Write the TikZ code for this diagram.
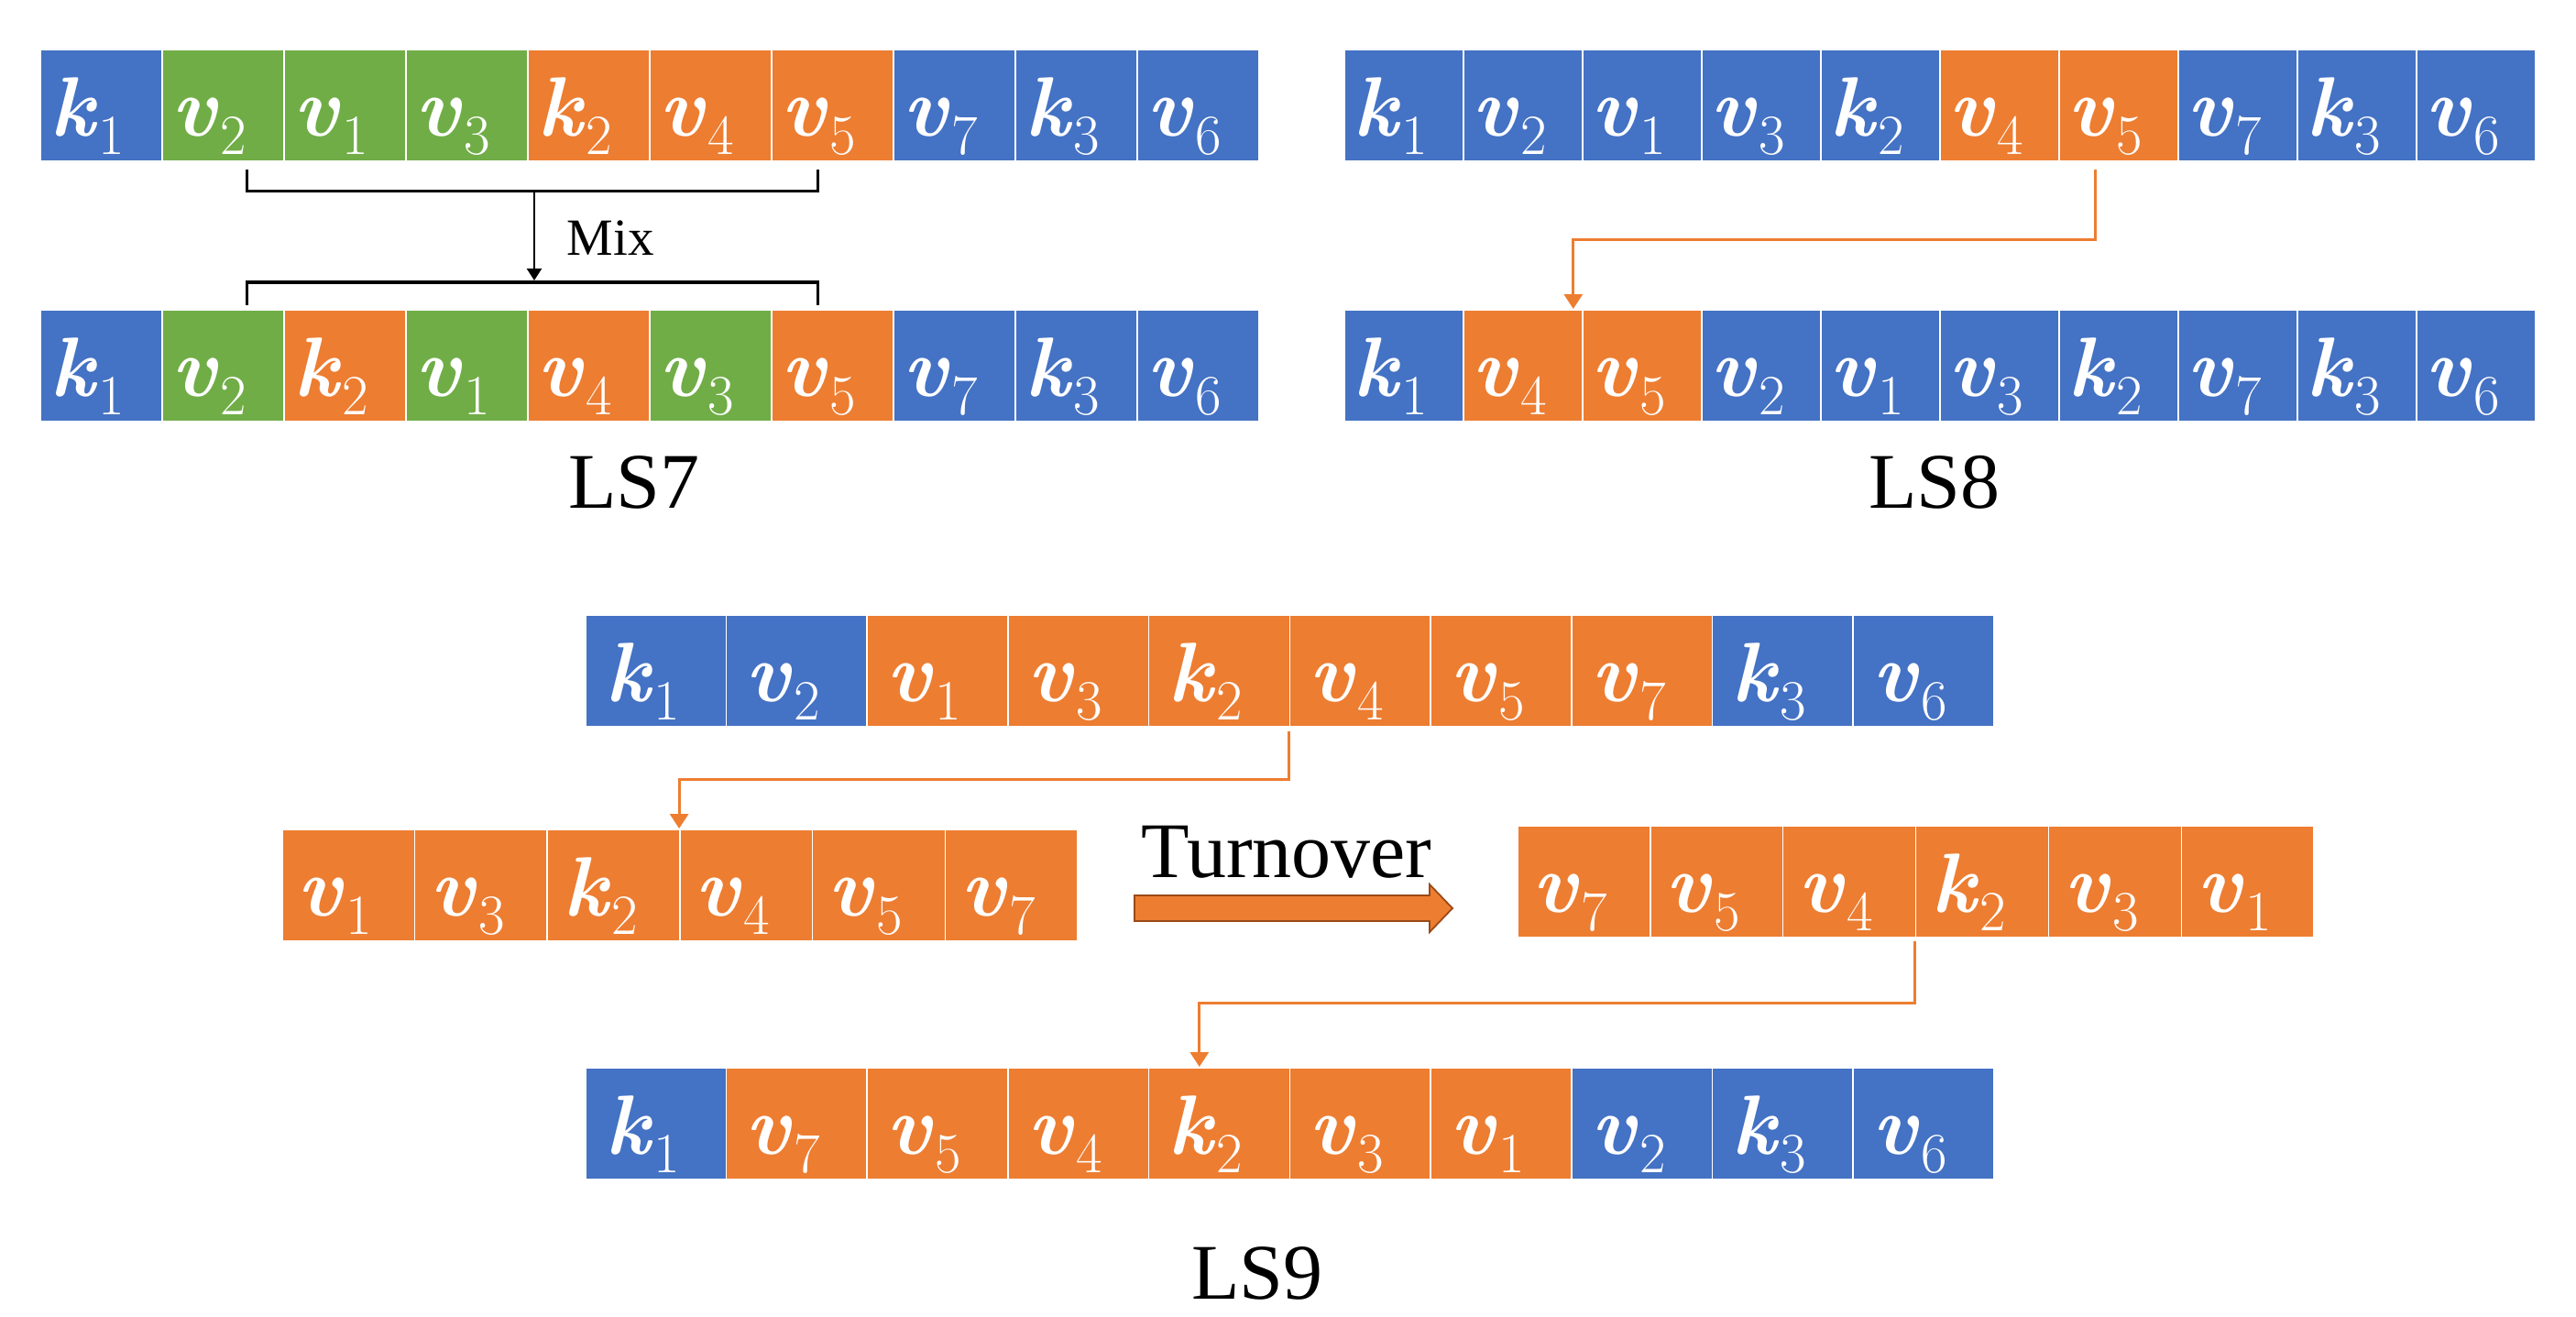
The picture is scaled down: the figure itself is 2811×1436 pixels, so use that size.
\documentclass[tikz,border=0pt]{standalone}
\usepackage{fontspec}
\setmainfont{Liberation Serif}
\newfontfamily\cellfont{Latin Modern Roman}
\usetikzlibrary{arrows.meta,calc}
\definecolor{cblue}{HTML}{4472C4}
\definecolor{cgreen}{HTML}{70AD47}
\definecolor{corange}{HTML}{ED7D31}
\definecolor{cbrown}{HTML}{9A4A17}
\tikzset{
  cellbox/.style={draw=white, line width=0.8pt, anchor=north west, inner ysep=0pt,
    minimum height=61pt, text height=47pt, text depth=13pt, align=left,
    text=white, font=\cellfont\fontsize{46}{50}\selectfont},
  lslbl/.style={anchor=base, inner sep=0pt, font=\fontsize{43}{50}\selectfont},
  mixlbl/.style={anchor=base, inner sep=0pt, font=\fontsize{28.5}{34}\selectfont},
  bracket/.style={draw=black, line width=1.8pt},
  karrow/.style={draw=black, line width=1.2pt, -{Triangle[width=8pt,length=6.5pt]}},
  oarrow/.style={draw=corange, line width=1.6pt, -{Triangle[width=10pt,length=8pt]}},
  blockarrow/.style={fill=corange, draw=cbrown, line width=0.9pt, line join=miter}
}
\newcommand{\cellsym}[2]{{\bfseries\itshape #1}\kern2pt\raisebox{-10pt}{\fontsize{31}{34}\selectfont #2}}
\newcommand{\mkrow}[5]{%
  \pgfmathsetmacro{\cellw}{#4*0.5}%
  \pgfmathsetmacro{\cellpad}{(#4/2-55.5)*0.5}%
  \pgfmathsetmacro{\celltw}{#4*0.5-2*\cellpad}%
  \foreach \ltr/\sbs/\clr [count=\ii] in {#5} {%
    \node[cellbox, fill=\clr, minimum width=\cellw pt, inner xsep=\cellpad pt,
      text width=\celltw pt] (#1\ii) at ({#2+(\ii-1)*#4}, #3) {\cellsym{\ltr}{\sbs}};
  }%
}
\begin{document}
\begin{tikzpicture}[x=0.5pt, y=-0.5pt]
\useasboundingbox (0,0) rectangle (2811,1436);
% LS7
\mkrow{a}{43}{53}{133}{k/1/cblue, v/2/cgreen, v/1/cgreen, v/3/cgreen, k/2/corange, v/4/corange, v/5/corange, v/7/cblue, k/3/cblue, v/6/cblue}
\mkrow{b}{43}{337}{133}{k/1/cblue, v/2/cgreen, k/2/corange, v/1/cgreen, v/4/corange, v/3/cgreen, v/5/corange, v/7/cblue, k/3/cblue, v/6/cblue}
% LS8
\mkrow{c}{1466}{53}{130}{k/1/cblue, v/2/cblue, v/1/cblue, v/3/cblue, k/2/cblue, v/4/corange, v/5/corange, v/7/cblue, k/3/cblue, v/6/cblue}
\mkrow{d}{1466}{337}{130}{k/1/cblue, v/4/corange, v/5/corange, v/2/cblue, v/1/cblue, v/3/cblue, k/2/cblue, v/7/cblue, k/3/cblue, v/6/cblue}
% LS9
\mkrow{e}{638}{670}{153.7}{k/1/cblue, v/2/cblue, v/1/corange, v/3/corange, k/2/corange, v/4/corange, v/5/corange, v/7/corange, k/3/cblue, v/6/cblue}
\mkrow{f}{307}{904}{144.7}{v/1/corange, v/3/corange, k/2/corange, v/4/corange, v/5/corange, v/7/corange}
\mkrow{g}{1655}{900}{144.9}{v/7/corange, v/5/corange, v/4/corange, k/2/corange, v/3/corange, v/1/corange}
\mkrow{h}{638}{1164}{153.7}{k/1/cblue, v/7/corange, v/5/corange, v/4/corange, k/2/corange, v/3/corange, v/1/corange, v/2/cblue, k/3/cblue, v/6/cblue}

% LS7 mix brackets
\draw[bracket] ($(a2.south)+(26,8)$) -- ++(0,24) -| ($(a7.south)+(-16,8)$);
\draw[bracket] ($(b2.north)+(26,-4)$) -- ++(0,-25) -| ($(b7.north)+(-16,-4)$);
\coordinate (mixa) at (583,207);
\coordinate (mixb) at (583,306);
\draw[karrow] (mixa) -- (mixb);
\node[mixlbl] (mix) at (666,278) {Mix};

% LS8 connector
\draw[oarrow] ($(c7.south)+(-25,8)$) -- ++(0,77) -| ($(d2.north)+(55,0)$);

% LS9 connectors
\draw[oarrow] ($(e6.south west)+(0,4)$) -- ++(0,53) -| (f4.north west);
\draw[oarrow] ($(g4.south west)+(0,3)$) -- ++(0,68) -| ($(h5.north west)+(56,0)$);

% Turnover block arrow
\path[blockarrow] (1238,977) -- (1560,977) -- (1560,965) -- (1585,991)
  -- (1560,1017) -- (1560,1005) -- (1238,1005) -- cycle;
\node[lslbl] (turn) at (1404,957) {Turnover};

% labels
\node[lslbl] (ls7) at (692,554) {LS7};
\node[lslbl] (ls8) at (2111,554) {LS8};
\node[lslbl] (ls9) at (1372,1417) {LS9};
\end{tikzpicture}
\end{document}
